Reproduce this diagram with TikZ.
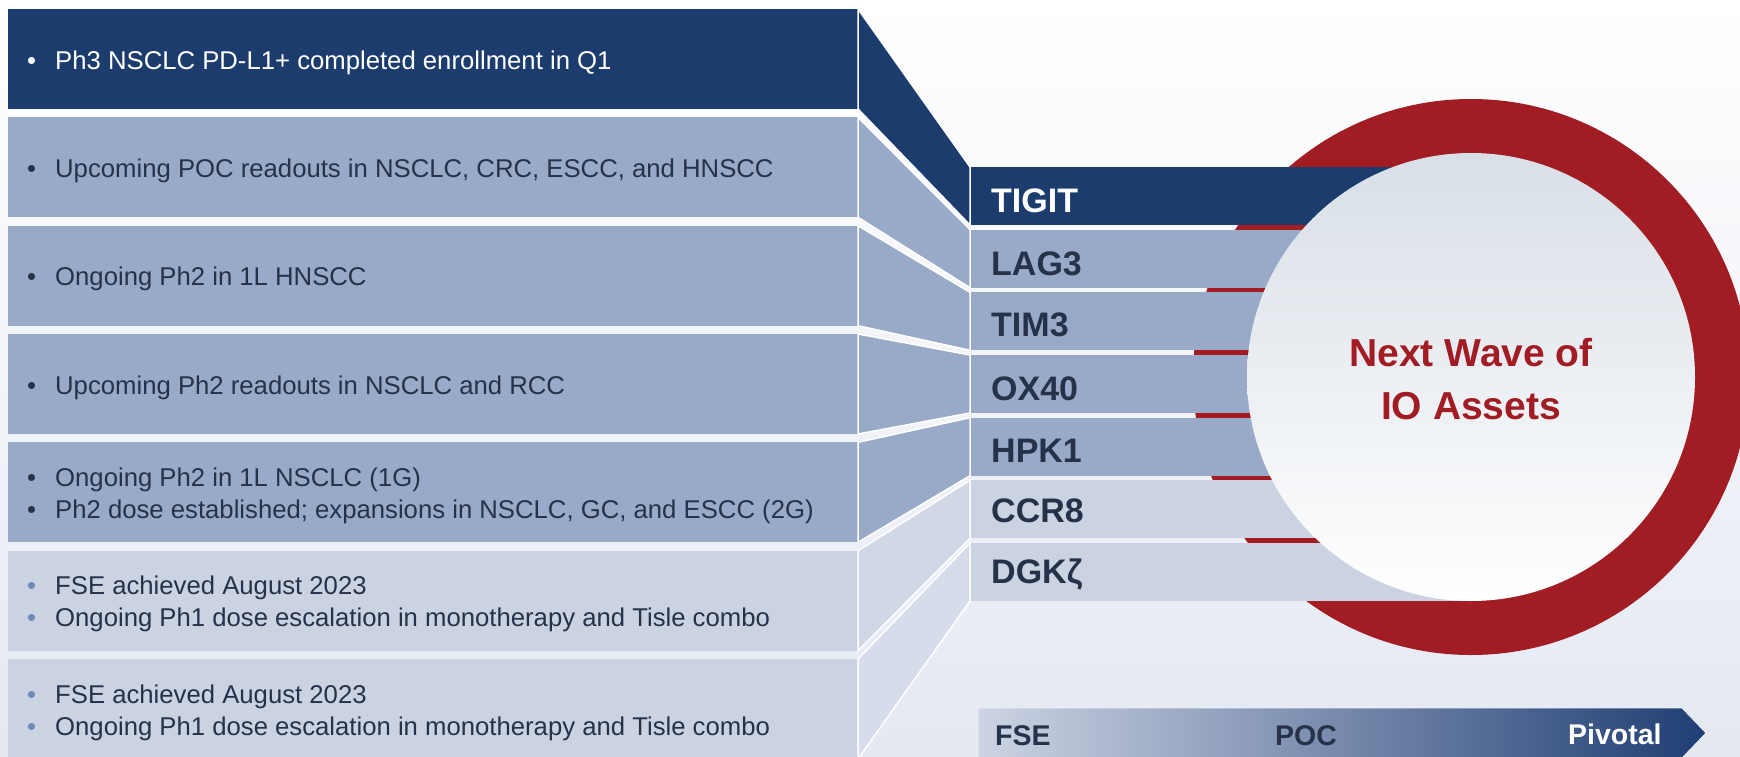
\documentclass[tikz,border=0pt]{standalone}
\usepackage{fontspec}
\setmainfont{Liberation Sans}
\definecolor{navy}{RGB}{29,60,110}
\definecolor{midb}{RGB}{152,170,200}
\definecolor{lightb}{RGB}{203,211,227}
\definecolor{trapsix}{RGB}{208,215,229}
\definecolor{trapseven}{RGB}{214,220,233}
\definecolor{ink}{RGB}{38,50,73}
\definecolor{ringred}{RGB}{162,28,36}
\definecolor{dotb}{RGB}{109,135,183}
\definecolor{bgbot}{RGB}{228,233,242}
\definecolor{coretop}{RGB}{216,223,231}
\definecolor{arrL}{RGB}{205,212,228}
\definecolor{arrM}{RGB}{125,143,177}
\definecolor{arrR}{RGB}{31,62,115}
\begin{document}
\begin{tikzpicture}[x=1pt,y=-1pt,
  panel/.style={rectangle, inner sep=0pt, outer sep=0pt, minimum width=850pt, minimum height=100pt},
  bar/.style={rectangle, inner sep=0pt, outer sep=0pt, minimum width=501pt, minimum height=58pt},
  trap/.style={draw=white, line width=1.5pt, line join=miter},
  ptext/.style={anchor=base west, inner sep=0pt, font=\fontsize{25.7}{32}\selectfont, text=ink},
  blabel/.style={anchor=base west, inner sep=0pt, font=\fontsize{34}{40}\selectfont\bfseries, text=ink},
  ctext/.style={anchor=base, inner sep=0pt, font=\fontsize{39}{53}\selectfont\bfseries, text=ringred},
  alabel/.style={anchor=base west, inner sep=0pt, font=\fontsize{28.5}{34}\selectfont\bfseries, text=ink}
]
\useasboundingbox (0,0) rectangle (1740,756);
\clip (0,0) rectangle (1740,756);
\fill[top color=white, bottom color=bgbot] (0,0) rectangle (1740,756);

% red ring (under the bars)
\node[circle, fill=ringred, minimum size=556pt, inner sep=0pt, outer sep=0pt] (ring) at (1471,377) {};

% left panels
\node[panel, fill=navy] (p1) at (433,59) {};
\node[panel, fill=midb] (p2) at (433,167.3) {};
\node[panel, fill=midb] (p3) at (433,275.7) {};
\node[panel, fill=midb] (p4) at (433,384) {};
\node[panel, fill=midb] (p5) at (433,492.3) {};
\node[panel, fill=lightb] (p6) at (433,600.7) {};
\node[panel, fill=lightb] (p7) at (433,709) {};

% right bars
\node[bar, fill=navy] (b1) at (1220.5,196) {};
\node[bar, fill=midb] (b2) at (1220.5,258.7) {};
\node[bar, fill=midb] (b3) at (1220.5,321.3) {};
\node[bar, fill=midb] (b4) at (1220.5,384) {};
\node[bar, fill=midb] (b5) at (1220.5,446.7) {};
\node[bar, fill=lightb] (b6) at (1220.5,509.3) {};
\node[bar, fill=lightb] (b7) at (1220.5,572) {};

% connecting trapezoids
\path[trap, fill=navy] (p1.north east) -- (b1.north west) -- (b1.south west) -- (p1.south east) -- cycle;
\path[trap, fill=midb] (p2.north east) -- (b2.north west) -- (b2.south west) -- (p2.south east) -- cycle;
\path[trap, fill=midb] (p3.north east) -- (b3.north west) -- (b3.south west) -- (p3.south east) -- cycle;
\path[trap, fill=midb] (p4.north east) -- (b4.north west) -- (b4.south west) -- (p4.south east) -- cycle;
\path[trap, fill=midb] (p5.north east) -- (b5.north west) -- (b5.south west) -- (p5.south east) -- cycle;
\path[trap, fill=trapsix] (p6.north east) -- (b6.north west) -- (b6.south west) -- (p6.south east) -- cycle;
\path[trap, fill=trapseven] (p7.north east) -- (b7.north west) -- (b7.south west) -- (p7.south east) -- cycle;

% inner circle
\node[circle, top color=coretop, bottom color=white, minimum size=448pt, inner sep=0pt, outer sep=0pt] (core) at (1471,377) {};
\node[ctext] (cw1) at (1471,366) {Next Wave of};
\node[ctext] (cw2) at (1471,419) {IO Assets};

% panel texts
\node[ptext, text=white] (t1) at (27,69) {\makebox[28pt][l]{\textbullet}Ph3 NSCLC PD-L1+ completed enrollment in Q1};
\node[ptext] (t2) at (27,177.3) {\makebox[28pt][l]{\textbullet}Upcoming POC readouts in NSCLC, CRC, ESCC, and HNSCC};
\node[ptext] (t3) at (27,285.7) {\makebox[28pt][l]{\textbullet}Ongoing Ph2 in 1L HNSCC};
\node[ptext] (t4) at (27,394) {\makebox[28pt][l]{\textbullet}Upcoming Ph2 readouts in NSCLC and RCC};
\node[ptext] (t5a) at (27,486.3) {\makebox[28pt][l]{\textbullet}Ongoing Ph2 in 1L NSCLC (1G)};
\node[ptext] (t5b) at (27,518.3) {\makebox[28pt][l]{\textbullet}Ph2 dose established; expansions in NSCLC, GC, and ESCC (2G)};
\node[ptext] (t6a) at (27,594.7) {\makebox[28pt][l]{\color{dotb}\textbullet}FSE achieved August 2023};
\node[ptext] (t6b) at (27,626.7) {\makebox[28pt][l]{\color{dotb}\textbullet}Ongoing Ph1 dose escalation in monotherapy and Tisle combo};
\node[ptext] (t7a) at (27,703) {\makebox[28pt][l]{\color{dotb}\textbullet}FSE achieved August 2023};
\node[ptext] (t7b) at (27,735) {\makebox[28pt][l]{\color{dotb}\textbullet}Ongoing Ph1 dose escalation in monotherapy and Tisle combo};

% bar labels
\node[blabel, text=white] (l1) at (991,212.7) {TIGIT};
\node[blabel] (l2) at (991,275) {LAG3};
\node[blabel] (l3) at (991,336.7) {TIM3};
\node[blabel] (l4) at (991,400) {OX40};
\node[blabel] (l5) at (991,462.7) {HPK1};
\node[blabel] (l6) at (991,522.7) {CCR8};
\node[blabel] (l7) at (991,583.3) {DGKζ};

% stage arrow
\coordinate (aTL) at (978,708);
\coordinate (aTR) at (1682,708);
\coordinate (aTip) at (1706,733);
\coordinate (aBR) at (1682,758);
\coordinate (aBL) at (978,758);
\path[left color=arrL, middle color=arrM, right color=arrR, draw=white!70!arrL, line width=0.8pt]
  (aTL) -- (aTR) -- (aTip) -- (aBR) -- (aBL) -- cycle;
\node[alabel] (s1) at (995,745) {FSE};
\node[alabel] (s2) at (1275,745) {POC};
\node[alabel, text=white] (s3) at (1568,744) {Pivotal};
\end{tikzpicture}
\end{document}
